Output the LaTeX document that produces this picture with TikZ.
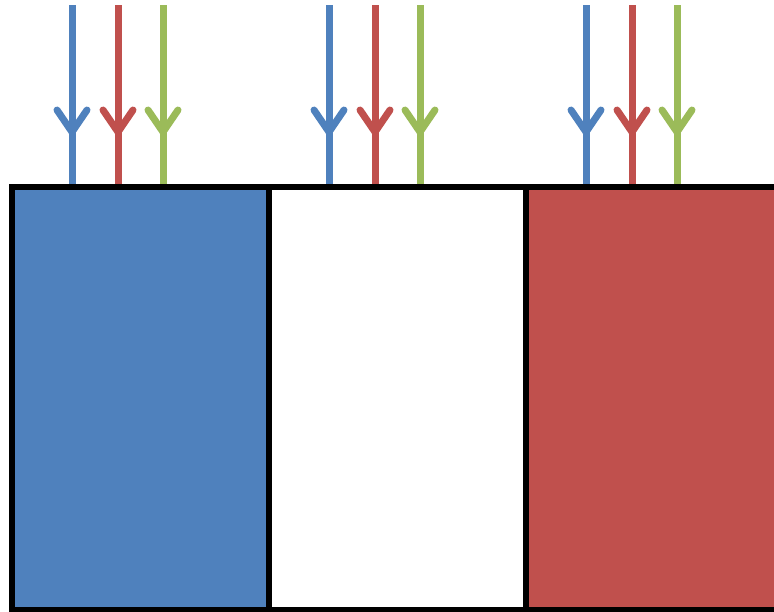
\documentclass[tikz,border=0pt]{standalone}
\usetikzlibrary{calc,backgrounds}
\definecolor{flagblue}{RGB}{79,129,189}
\definecolor{flagred}{RGB}{192,80,77}
\definecolor{flaggreen}{RGB}{155,187,89}

\begin{document}
\begin{tikzpicture}[x=1pt,y=-1pt,
  band/.style={draw=black,line width=5.5pt,minimum width=257pt,minimum height=423pt,inner sep=0pt,outer sep=0pt,anchor=north west},
  feed/.style={line width=7pt},
  barb/.style={line width=7pt,line cap=round,line join=round}]
  \useasboundingbox (0,0) rectangle (774,611);
  \clip (0,0) rectangle (774,611);
  % three bands
  \node[band,fill=flagblue] (blueband) at (12,187) {};
  \node[band,fill=white] (whiteband) at (269,187) {};
  \node[band,fill=flagred] (redband) at (526,187) {};
  % incoming arrows, three per band
  \begin{scope}[on background layer]
  \foreach \band in {blueband,whiteband,redband}{
    \foreach \off/\col in {60/flagblue,106/flagred,151/flaggreen}{
      \coordinate (\band-\col-in) at ($(\band.north west)+(\off,-182)$);
      \coordinate (\band-\col-tip) at ($(\band.north west)+(\off,-55)$);
      \draw[feed,\col] (\band-\col-in) -- ($(\band.north west)+(\off,0)$);
      \draw[barb,\col] ($(\band-\col-tip)+(-15,-22)$) -- (\band-\col-tip) -- ($(\band-\col-tip)+(15,-22)$);
    }
  }
  \end{scope}
\end{tikzpicture}
\end{document}
